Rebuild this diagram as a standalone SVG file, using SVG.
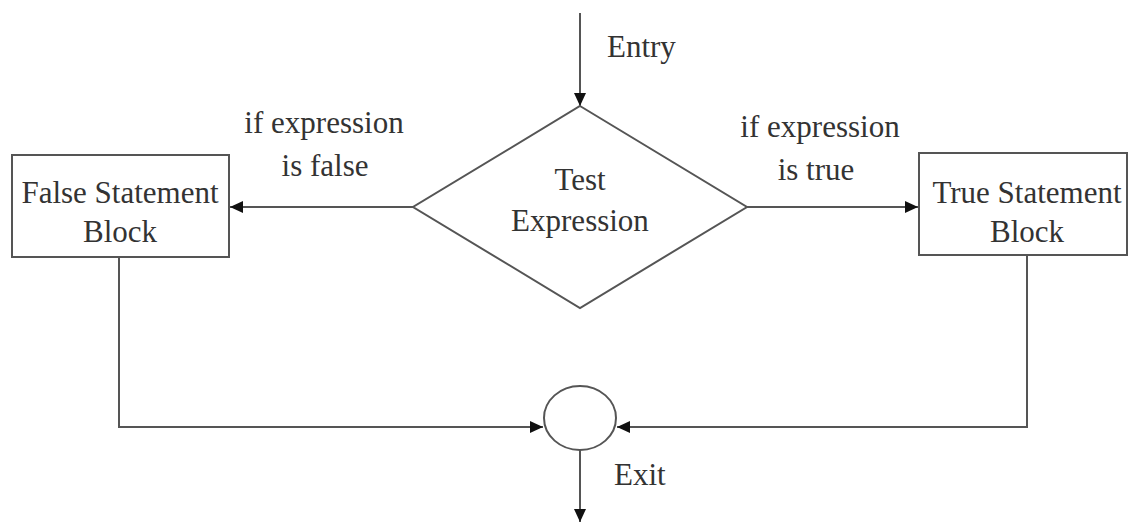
<svg xmlns="http://www.w3.org/2000/svg" width="1129" height="523" viewBox="0 0 1129 523">
<style>
.shape{fill:#ffffff;stroke:#555555;stroke-width:2}
.conn{fill:none;stroke:#555555;stroke-width:2}
.t{font-family:"Liberation Serif","Times New Roman",serif;font-size:31px;fill:#333333;text-anchor:middle}
.l{font-family:"Liberation Serif","Times New Roman",serif;font-size:31px;fill:#333333}
</style>
<defs>
<marker id="arr" markerUnits="userSpaceOnUse" markerWidth="14" markerHeight="12" refX="13" refY="6" orient="auto">
<path d="M0,0 L13,6 L0,12 Z" fill="#111111"/>
</marker>
</defs>
<rect width="1129" height="523" fill="#ffffff"/>
<g id="connectors">
<line class="conn" x1="580" y1="13" x2="580" y2="106" marker-end="url(#arr)"/>
<line class="conn" x1="413" y1="207" x2="230" y2="207" marker-end="url(#arr)"/>
<line class="conn" x1="747" y1="207" x2="918" y2="207" marker-end="url(#arr)"/>
<polyline class="conn" points="119,257 119,427 543,427" marker-end="url(#arr)"/>
<polyline class="conn" points="1027,255 1027,427 617,427" marker-end="url(#arr)"/>
<line class="conn" x1="580" y1="450" x2="580" y2="522" marker-end="url(#arr)"/>
<text class="l" x="607" y="57">Entry</text>
<text class="t" x="324" y="133">if expression</text>
<text class="t" x="325" y="176">is false</text>
<text class="t" x="820" y="137">if expression</text>
<text class="t" x="816" y="180">is true</text>
<text class="l" x="614" y="485">Exit</text>
</g>
<g id="test">
<polygon class="shape" points="580,106 747,207 580,308 413,207"/>
<text class="t" x="580" y="190">Test</text>
<text class="t" x="580" y="231">Expression</text>
</g>
<g id="false-block">
<rect class="shape" x="12" y="155" width="217" height="102"/>
<text class="t" x="120" y="203">False Statement</text>
<text class="t" x="120" y="242">Block</text>
</g>
<g id="true-block">
<rect class="shape" x="919" y="153" width="208" height="102"/>
<text class="t" x="1027" y="203">True Statement</text>
<text class="t" x="1027" y="242">Block</text>
</g>
<g id="exit">
<ellipse class="shape" cx="580" cy="418" rx="36" ry="32"/>
</g>
</svg>
